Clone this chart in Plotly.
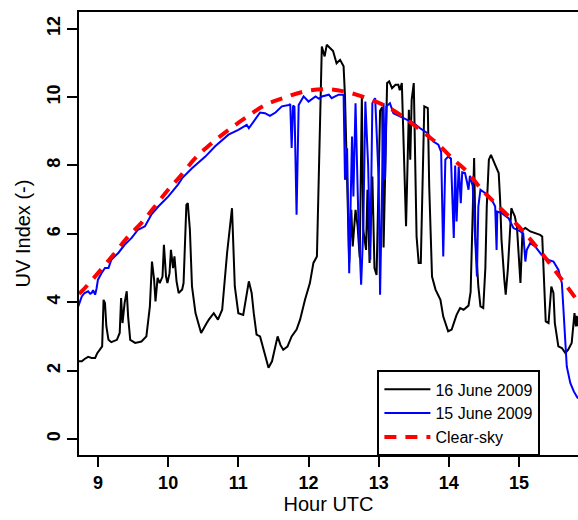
import plotly.graph_objects as go

# 16 June 2009 (black)
hour_16 = [8.72, 8.77, 8.81, 8.86, 8.91, 8.96, 8.99, 9.03, 9.06, 9.08, 9.10, 9.12, 9.15, 9.19, 9.27,
           9.31, 9.33, 9.35, 9.38, 9.41, 9.43, 9.46, 9.53, 9.62, 9.69, 9.74, 9.77, 9.80, 9.82, 9.85,
           9.88, 9.92, 9.94, 9.97, 9.99, 10.02, 10.04, 10.07, 10.09, 10.12, 10.15, 10.20, 10.22, 10.26,
           10.28, 10.31, 10.34, 10.39, 10.47, 10.55, 10.58, 10.65, 10.71, 10.77, 10.84, 10.91, 10.95,
           11.00, 11.07, 11.15, 11.19, 11.22, 11.26, 11.31, 11.38, 11.43, 11.48, 11.53, 11.56, 11.60,
           11.64, 11.70, 11.76, 11.83, 11.88, 11.95, 12.02, 12.07, 12.12, 12.14, 12.17, 12.19, 12.23,
           12.26, 12.31, 12.35, 12.40, 12.45, 12.50, 12.52, 12.55, 12.58, 12.61, 12.63, 12.67, 12.70,
           12.73, 12.76, 12.78, 12.82, 12.84, 12.87, 12.91, 12.94, 12.97, 13.02, 13.05, 13.07, 13.12,
           13.15, 13.19, 13.24, 13.28, 13.30, 13.33, 13.36, 13.39, 13.43, 13.45, 13.47, 13.50, 13.54,
           13.57, 13.60, 13.63, 13.65, 13.70, 13.72, 13.76, 13.81, 13.88, 13.92, 13.99, 14.04, 14.11,
           14.16, 14.21, 14.26, 14.28, 14.31, 14.34, 14.36, 14.38, 14.42, 14.45, 14.49, 14.52, 14.54,
           14.57, 14.60, 14.66, 14.71, 14.73, 14.75, 14.79, 14.81, 14.84, 14.86, 14.89, 14.91, 14.94,
           14.97, 14.99, 15.02, 15.05, 15.09, 15.16, 15.23, 15.30, 15.33, 15.36, 15.38, 15.42, 15.46,
           15.49, 15.51, 15.56, 15.61, 15.66, 15.70, 15.75, 15.79, 15.81, 15.82, 15.83, 15.84]
uvi_16 = [2.27, 2.27, 2.34, 2.40, 2.37, 2.37, 2.51, 2.61, 2.71, 4.07, 3.98, 3.29, 2.90, 2.83, 2.90,
          3.10, 4.12, 3.39, 3.98, 4.32, 3.58, 2.90, 2.81, 2.85, 3.00, 3.88, 5.19, 4.66, 4.02, 4.71,
          4.56, 4.75, 5.68, 4.75, 4.56, 4.85, 5.53, 5.00, 5.34, 4.61, 4.27, 4.37, 4.56, 6.85,
          6.90, 6.12, 4.46, 3.68, 3.10, 3.39, 3.49, 3.68, 3.49, 3.78, 5.44, 6.75, 4.46,
          3.68, 3.63, 4.61, 4.27, 3.68, 3.05, 3.00, 2.42, 2.08, 2.27, 2.71, 3.00, 2.75,
          2.61, 2.70, 3.00, 3.20, 3.49, 4.07, 4.56, 5.15, 5.34, 7.09, 10.00, 11.48, 11.19,
          11.53, 11.43, 11.35, 10.99, 11.09, 10.90, 10.02, 7.58, 5.15, 6.70, 5.63, 6.70, 6.22,
          5.30, 10.02, 6.12, 5.53, 7.29, 5.15, 7.68, 5.00, 4.80, 9.60, 9.70, 5.60, 10.41,
          10.46, 10.26, 10.36, 10.36, 10.20, 10.41, 8.00, 6.22, 9.63, 8.17, 9.92, 10.41, 5.92,
          5.15, 5.15, 7.87, 9.73, 9.68, 7.39, 4.75, 4.37, 4.07, 3.58, 3.15, 3.20, 3.63,
          3.83, 3.78, 3.88, 3.90, 4.30, 6.50, 8.22, 5.83, 4.46, 3.88, 3.83, 5.00, 6.80,
          8.17, 8.31, 8.02, 7.78, 7.00, 5.83, 4.66, 4.22, 4.95, 5.83, 6.75, 6.65, 6.51,
          6.20, 5.53, 4.56, 6.12, 6.17, 6.07, 6.02, 5.97, 5.92, 4.37, 3.44, 3.39, 4.46,
          4.27, 3.39, 2.71, 2.66, 2.51, 2.61, 2.81, 3.68, 3.29, 3.60, 3.30, 3.58]

# 15 June 2009 (blue)
hour_15 = [8.72, 8.77, 8.81, 8.86, 8.89, 8.91, 8.93, 8.96, 8.98, 9.00, 9.05, 9.10, 9.15, 9.19, 9.29,
           9.38, 9.48, 9.57, 9.67, 9.76, 9.86, 10.00, 10.14, 10.20, 10.34, 10.53, 10.67, 10.86, 11.00,
           11.12, 11.15, 11.24, 11.31, 11.38, 11.45, 11.53, 11.62, 11.72, 11.74, 11.76, 11.78, 11.80,
           11.83, 11.86, 11.93, 12.00, 12.05, 12.10, 12.15, 12.19, 12.29, 12.33, 12.38, 12.43, 12.50,
           12.52, 12.55, 12.58, 12.62, 12.64, 12.67, 12.71, 12.75, 12.78, 12.81, 12.85, 12.88, 12.91,
           12.95, 12.98, 13.00, 13.02, 13.05, 13.07, 13.09, 13.11, 13.16, 13.21, 13.31, 13.40, 13.50,
           13.59, 13.69, 13.78, 13.85, 13.89, 13.92, 13.95, 13.99, 14.03, 14.07, 14.09, 14.11, 14.14,
           14.17, 14.19, 14.23, 14.26, 14.28, 14.30, 14.34, 14.40, 14.42, 14.45, 14.52, 14.61, 14.66,
           14.68, 14.69, 14.75, 14.85, 14.92, 14.97, 15.02, 15.06, 15.09, 15.11, 15.16, 15.23, 15.32,
           15.42, 15.49, 15.56, 15.61, 15.63, 15.66, 15.68, 15.73, 15.78, 15.82, 15.84]
uvi_15 = [3.88, 4.17, 4.27, 4.32, 4.25, 4.27, 4.35, 4.22, 4.40, 4.66, 4.85, 5.00, 5.00, 5.24, 5.44,
          5.68, 5.88, 6.12, 6.22, 6.56, 6.80, 7.09, 7.44, 7.63, 7.92, 8.26, 8.56, 8.90, 9.04,
          9.19, 9.09, 9.34, 9.55, 9.53, 9.45, 9.55, 9.73, 9.77, 9.80, 8.51, 9.75, 9.72,
          6.56, 9.77, 10.02, 9.87, 9.95, 10.02, 9.95, 10.02, 10.07, 9.97, 10.02, 10.07, 10.07,
          7.58, 8.50, 4.85, 8.85, 7.09, 9.82, 6.51, 4.51, 6.12, 9.87, 8.00, 5.24, 9.82,
          9.97, 8.50, 7.58, 4.22, 8.00, 9.82, 7.58, 9.73, 9.82, 9.53, 9.43, 9.34, 9.24,
          9.09, 8.95, 8.70, 8.61, 8.40, 5.34, 8.17, 8.26, 8.20, 5.88, 8.00, 6.36, 7.97,
          6.90, 7.80, 7.78, 7.50, 7.29, 7.70, 7.40, 4.75, 6.80, 7.29, 7.19, 7.00, 6.80,
          5.53, 6.65, 6.61, 6.46, 6.17, 6.12, 6.07, 6.00, 5.19, 5.53, 5.73, 5.63, 5.39,
          5.24, 5.19, 4.95, 4.56, 3.88, 2.71, 2.12, 1.64, 1.39, 1.25, 1.18]

# Clear-sky (red dashed)
hour_cs = [8.73, 8.77, 9.00, 9.24, 9.43, 9.62, 9.81, 10.00, 10.15, 10.39, 10.62, 10.86, 11.10, 11.38,
           11.64, 11.93, 12.24, 12.52, 12.83, 13.07, 13.31, 13.59, 13.83, 14.07, 14.26, 14.47, 14.71,
           15.04, 15.32, 15.61, 15.82, 15.84]
uvi_cs = [4.25, 4.32, 4.85, 5.44, 5.92, 6.32, 6.80, 7.29, 7.63, 8.22, 8.65, 9.04, 9.39, 9.77,
          9.97, 10.16, 10.23, 10.16, 9.97, 9.77, 9.48, 9.04, 8.65, 8.17, 7.82, 7.29, 6.80,
          6.12, 5.44, 4.66, 4.08, 4.03]

x_ticks = [9, 10, 11, 12, 13, 14, 15]
y_ticks = [0, 2, 4, 6, 8, 10, 12]

FONT = "Liberation Sans, Arial, Helvetica, sans-serif"

fig = go.Figure()
fig.add_trace(go.Scatter(x=hour_16, y=uvi_16, mode="lines", name="16 June 2009",
                         line=dict(color="black", width=2)))
fig.add_trace(go.Scatter(x=hour_15, y=uvi_15, mode="lines", name="15 June 2009",
                         line=dict(color="#0000ff", width=2)))
fig.add_trace(go.Scatter(x=hour_cs, y=uvi_cs, mode="lines", name="Clear-sky",
                         line=dict(color="#ff0000", width=4, dash="12px,9px", shape="spline")))

fig.update_layout(
    width=578, height=520,
    margin=dict(l=79, r=0, t=12, b=65, autoexpand=False),
    paper_bgcolor="white", plot_bgcolor="white",
    font=dict(family=FONT, color="black"),
    showlegend=True,
    legend=dict(x=0.598, y=0.191, xanchor="left", yanchor="top",
                bgcolor="white", bordercolor="black", borderwidth=2,
                font=dict(size=16, family=FONT, color="black"),
                itemwidth=46, tracegroupgap=0, entrywidth=125, entrywidthmode="pixels"),
)
fig.update_xaxes(range=[8.73, 15.84], tickvals=x_ticks, ticktext=[str(v) for v in x_ticks],
                 automargin=False,
                 showgrid=False, zeroline=False, showline=True, linecolor="black", linewidth=2,
                 mirror=True, ticks="outside", ticklen=10, tickwidth=2, tickcolor="black",
                 tickfont=dict(size=18, family=FONT, color="black", weight="bold"),
                 title=dict(text="Hour UTC", font=dict(size=20, family=FONT), standoff=4))
fig.update_yaxes(range=[-0.47, 12.49], tickvals=y_ticks, ticktext=[str(v) for v in y_ticks],
                 automargin=False,
                 showgrid=False, zeroline=False, showline=True, linecolor="black", linewidth=2,
                 ticks="outside", ticklen=10, tickwidth=2, tickcolor="black", tickangle=-90,
                 tickfont=dict(size=18, family=FONT, color="black", weight="bold"),
                 title=dict(text="UV Index (-)", font=dict(size=20, family=FONT), standoff=8))

fig.write_html("out.html", config={"displayModeBar": False},
               post_script="document.body.style.margin='0px';document.body.style.overflow='hidden';")
